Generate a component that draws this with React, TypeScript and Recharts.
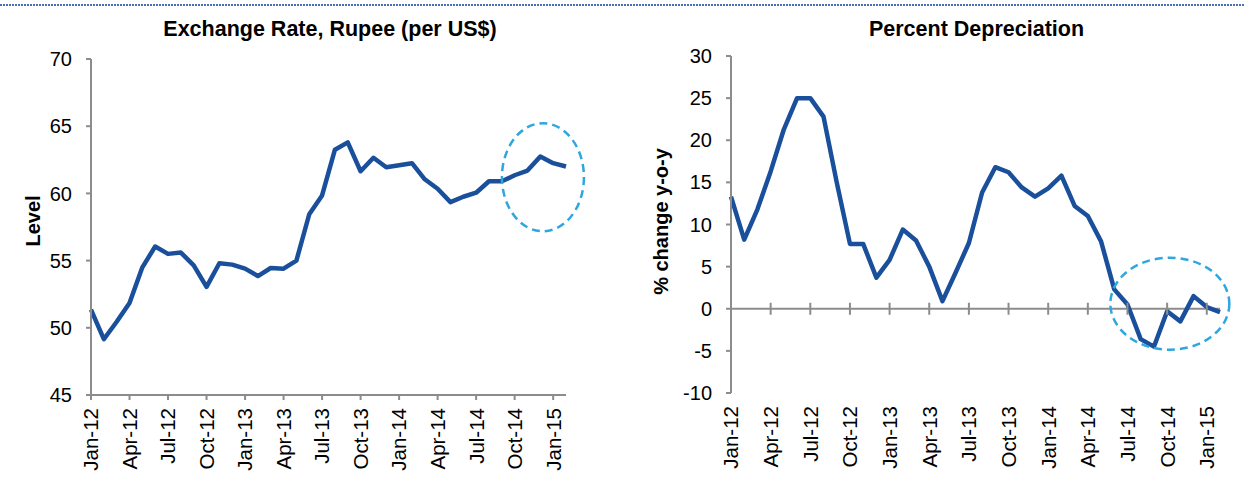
import { LineChart, Line, XAxis, YAxis, ReferenceLine, ReferenceDot } from 'recharts'

const months = [
  'Jan-12', 'Feb-12', 'Mar-12', 'Apr-12', 'May-12', 'Jun-12', 'Jul-12', 'Aug-12', 'Sep-12', 'Oct-12', 'Nov-12', 'Dec-12',
  'Jan-13', 'Feb-13', 'Mar-13', 'Apr-13', 'May-13', 'Jun-13', 'Jul-13', 'Aug-13', 'Sep-13', 'Oct-13', 'Nov-13', 'Dec-13',
  'Jan-14', 'Feb-14', 'Mar-14', 'Apr-14', 'May-14', 'Jun-14', 'Jul-14', 'Aug-14', 'Sep-14', 'Oct-14', 'Nov-14', 'Dec-14',
  'Jan-15', 'Feb-15',
]

// rupee per US$, monthly
const rupeeLevel = [
  51.35, 49.15, 50.45, 51.85, 54.5, 56.05, 55.5, 55.6, 54.65, 53.05, 54.8, 54.7,
  54.4, 53.85, 54.45, 54.4, 55.0, 58.45, 59.85, 63.25, 63.8, 61.65, 62.65, 61.95,
  62.1, 62.25, 61.05, 60.35, 59.35, 59.75, 60.05, 60.9, 60.9, 61.35, 61.7, 62.75,
  62.25, 62.0,
]

// % change y-o-y
const depreciation = [
  13.3, 8.2, 11.8, 16.3, 21.3, 25.0, 25.0, 22.8, 15.0, 7.7, 7.7, 3.7,
  5.8, 9.4, 8.1, 5.0, 0.9, 4.3, 7.8, 13.8, 16.8, 16.2, 14.4, 13.3,
  14.3, 15.8, 12.2, 11.0, 8.0, 2.3, 0.5, -3.6, -4.5, -0.3, -1.5, 1.5,
  0.2, -0.4,
]

const levelTicks = [45, 50, 55, 60, 65, 70]
const depTicks = [-10, -5, 0, 5, 10, 15, 20, 25, 30]
const quarterLabels = ['Apr-12', 'Jul-12', 'Oct-12', 'Jan-13', 'Apr-13', 'Jul-13', 'Oct-13', 'Jan-14', 'Apr-14', 'Jul-14', 'Oct-14', 'Jan-15']

const data = months.map((m, i) => ({ month: m, rate: rupeeLevel[i], dep: depreciation[i] }))

const FONT = '"Liberation Sans", Arial, sans-serif'
const LINE = '#1a4f9b'
const AXIS = '#8c8c8c'
const RING = '#2ea7e0'

const makeXTick = (shift: number) => (props: any) => {
  const { x, y, payload } = props
  return (
    <text
      x={0}
      y={0}
      dy="0.36em"
      textAnchor="end"
      transform={`translate(${x},${y + shift}) rotate(-90)`}
      fontSize={20.5}
      fontFamily={FONT}
      fill="#000"
    >
      {payload.value}
    </text>
  )
}

const yTick = { fontSize: 20, fontFamily: FONT, fill: '#000' }

const ring = (dx: number, rx: number, ry: number) => (p: any) => (
  <ellipse
    cx={p.cx + dx}
    cy={p.cy}
    rx={rx}
    ry={ry}
    fill="none"
    stroke={RING}
    strokeWidth={2.5}
    strokeDasharray="8 5"
  />
)

const zeroTick = (p: any) => (
  <line x1={p.cx} x2={p.cx} y1={p.cy - 6} y2={p.cy + 6} stroke={AXIS} strokeWidth={2} />
)

export default function App() {
  return (
    <div style={{ position: 'absolute', left: 0, top: 0, width: 1245, height: 480, background: '#fff', overflow: 'hidden' }}>
      <div style={{ position: 'absolute', left: 0, top: 0 }}>
        <LineChart width={620} height={480} data={data} margin={{ top: 59, right: 54, bottom: 15, left: 31 }}>
          <XAxis
            dataKey="month"
            interval={2}
            height={70}
            axisLine={{ stroke: AXIS, strokeWidth: 2 }}
            tickLine={{ stroke: AXIS, strokeWidth: 2 }}
            tickSize={5}
            tick={makeXTick(6)}
          />
          <YAxis
            domain={[45, 70]}
            ticks={levelTicks}
            width={60}
            axisLine={{ stroke: AXIS, strokeWidth: 2 }}
            tickLine={{ stroke: AXIS, strokeWidth: 2 }}
            tickSize={5}
            tickMargin={14}
            tick={yTick}
          />
          <ReferenceDot x="Dec-14" y={61.2} shape={ring(2.6, 41, 54)} />
          <Line
            dataKey="rate"
            stroke={LINE}
            strokeWidth={4.5}
            dot={false}
            strokeLinejoin="round"
            isAnimationActive={false}
          />
        </LineChart>
      </div>
      <div style={{ position: 'absolute', left: 620, top: 0 }}>
        <LineChart width={625} height={480} data={data} margin={{ top: 56, right: 25, bottom: 17, left: 51 }}>
          <XAxis
            dataKey="month"
            interval={2}
            height={70}
            axisLine={false}
            tickLine={false}
            tickSize={5}
            tick={makeXTick(6)}
          />
          <YAxis
            domain={[-10, 30]}
            ticks={depTicks}
            width={60}
            axisLine={{ stroke: AXIS, strokeWidth: 2 }}
            tickLine={{ stroke: AXIS, strokeWidth: 2 }}
            tickSize={5}
            tickMargin={14}
            tick={yTick}
          />
          <ReferenceLine y={0} stroke={AXIS} strokeWidth={2} />
          {quarterLabels.map((q) => (
            <ReferenceDot key={q} x={q} y={0} shape={zeroTick} />
          ))}
          <ReferenceDot x="Oct-14" y={0.6} shape={ring(2.7, 59.5, 46)} />
          <Line
            dataKey="dep"
            stroke={LINE}
            strokeWidth={4.5}
            dot={false}
            strokeLinejoin="round"
            isAnimationActive={false}
          />
        </LineChart>
      </div>
      <svg width={1245} height={480} style={{ position: 'absolute', left: 0, top: 0, pointerEvents: 'none' }}>
        <line x1={0} x2={1245} y1={5} y2={5} stroke="#4a6fb5" strokeWidth={2} strokeDasharray="2 1" />
        <text x={330} y={35.5} textAnchor="middle" fontSize={21.5} fontWeight="bold" fontFamily={FONT} fill="#000">
          Exchange Rate, Rupee (per US$)
        </text>
        <text x={976.5} y={35.5} textAnchor="middle" fontSize={21.5} fontWeight="bold" fontFamily={FONT} fill="#000">
          Percent Depreciation
        </text>
        <text transform="translate(40,221) rotate(-90)" textAnchor="middle" fontSize={20} fontWeight="bold" fontFamily={FONT} fill="#000">
          Level
        </text>
        <text transform="translate(668,221.5) rotate(-90)" textAnchor="middle" fontSize={20} fontWeight="bold" fontFamily={FONT} fill="#000">
          % change y-o-y
        </text>
      </svg>
    </div>
  )
}
